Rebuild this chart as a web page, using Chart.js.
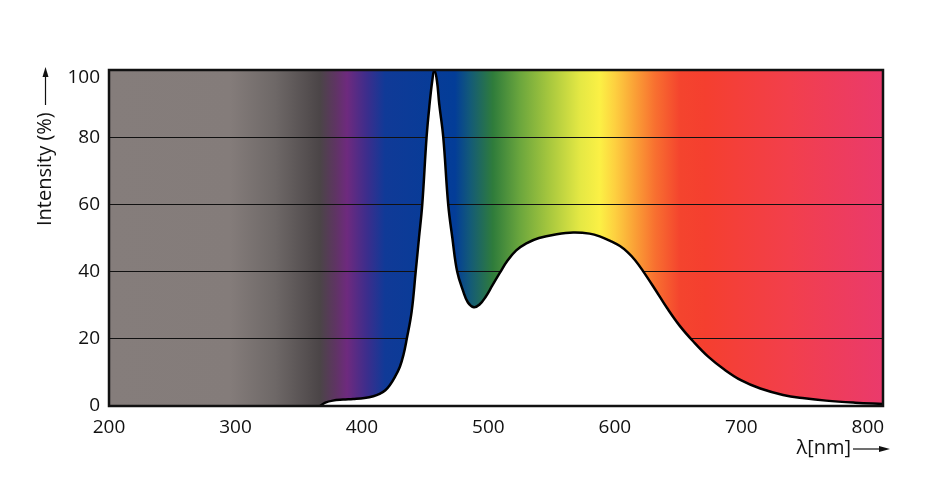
<!DOCTYPE html>
<html>
<head>
<meta charset="utf-8">
<script src="https://cdn.jsdelivr.net/npm/chart.js@4.4.1/dist/chart.umd.min.js"></script>
<style>
  html, body { margin: 0; padding: 0; background: #ffffff; }
  #wrap { width: 947px; height: 477px; }
</style>
</head>
<body>
<div id="wrap"><canvas id="c" width="947" height="477"></canvas></div>
<script>
// Wavelength (nm) and relative intensity (%)
const wavelengths = [366.8, 371, 377, 385, 393, 402, 409, 414, 418.5, 422, 426, 430, 432.8, 435.3, 439.3, 442.5, 445.1, 447.7, 451.1, 453.5, 455.6, 457.2, 459.3, 461.1, 464.3, 468.2, 471.5, 475.3, 480.1, 483.8, 488.5, 493, 498, 503, 509, 515, 522, 530, 540, 554, 567, 580, 588, 597, 604, 610, 616, 622, 632, 641, 651, 662, 674, 686, 700, 715, 733, 750, 767, 790, 812];
const intensity = [0, 1.0, 1.6, 1.9, 2.1, 2.4, 2.9, 3.6, 4.7, 6.2, 8.6, 11.7, 15.2, 19.7, 28.1, 40, 50, 60, 80, 89.9, 96.8, 100, 96.8, 89.9, 80, 60, 50, 40, 34.1, 30.8, 29.4, 30.2, 32.6, 35.8, 39.6, 43.2, 46.3, 48.4, 50.0, 51.1, 51.6, 51.3, 50.5, 49.0, 47.6, 45.8, 43.4, 40.3, 34.6, 29.3, 24.0, 19.2, 14.6, 11.0, 7.6, 5.2, 3.3, 2.3, 1.6, 1.0, 0.6];
const xTicks = [200, 300, 400, 500, 600, 700, 800];
const yTicks = [0, 20, 40, 60, 80, 100];
const xTitle = 'λ[nm]';
const yTitle = 'Intensity (%)';

// spectrum colour stops as wavelength -> colour
const stopNm = [200, 295.7, 331.3, 366.8, 378.7, 388.2, 404.0, 418.2, 473.6, 485.4, 503.6, 525.0, 548.7, 572.4, 588.2, 600.1, 615.9, 631.7, 651.5, 671.3, 738.5, 812];
const stopCol = ['#857d7b', '#847c7a', '#6e6867', '#4b4547', '#5e3562', '#6e2a7e', '#3c2d8c', '#103a97', '#033d98', '#135a78', '#2f7c3b', '#6ba63d', '#a8c83e', '#e4e844', '#fbf045', '#fdd040', '#faa036', '#f87030', '#f4442e', '#f53f2f', '#f23f4c', '#ea3a6c'];

const FONT = '"Open Sans", "Noto Sans", sans-serif';

const points = wavelengths.map((w, i) => ({ x: w, y: intensity[i] }));

const spectrumPlugin = {
  id: 'spectrum',
  beforeDraw(chart) {
    const { ctx, chartArea: a, scales } = chart;
    ctx.save();
    ctx.fillStyle = '#ffffff';
    ctx.fillRect(0, 0, chart.width, chart.height);
    const g = ctx.createLinearGradient(a.left, 0, a.right, 0);
    const min = scales.x.min, max = scales.x.max;
    stopNm.forEach((nm, i) => {
      const f = Math.min(1, Math.max(0, (nm - min) / (max - min)));
      g.addColorStop(f, stopCol[i]);
    });
    ctx.fillStyle = g;
    ctx.fillRect(a.left, a.top, a.right - a.left, a.bottom - a.top);
    ctx.restore();
  },
  afterDatasetsDraw(chart) {
    const { ctx, chartArea: a } = chart;
    ctx.save();
    ctx.strokeStyle = '#111111';
    ctx.lineWidth = 2.5;
    ctx.strokeRect(a.left, a.top, a.right - a.left, a.bottom - a.top);
    ctx.restore();
  },
  afterDraw(chart) {
    const { ctx } = chart;
    ctx.save();
    ctx.fillStyle = '#111111';
    ctx.strokeStyle = '#111111';
    ctx.font = '20px ' + FONT;
    // y title rotated
    ctx.save();
    ctx.translate(51, 226);
    ctx.rotate(-Math.PI / 2);
    ctx.textAlign = 'left';
    ctx.textBaseline = 'alphabetic';
    ctx.fillText(yTitle, 0, 0);
    ctx.restore();
    // y arrow
    ctx.lineWidth = 1.2;
    ctx.beginPath();
    ctx.moveTo(45.5, 105);
    ctx.lineTo(45.5, 74);
    ctx.stroke();
    ctx.beginPath();
    ctx.moveTo(45.5, 67);
    ctx.lineTo(42.5, 77);
    ctx.lineTo(48.5, 77);
    ctx.closePath();
    ctx.fill();
    // x title
    ctx.font = '20px ' + FONT;
    ctx.textAlign = 'right';
    ctx.textBaseline = 'middle';
    ctx.fillText(xTitle, 851, 448);
    ctx.beginPath();
    ctx.moveTo(853, 449);
    ctx.lineTo(881, 449);
    ctx.stroke();
    ctx.beginPath();
    ctx.moveTo(890, 449);
    ctx.lineTo(879, 446);
    ctx.lineTo(879, 452);
    ctx.closePath();
    ctx.fill();
    ctx.restore();
  }
};

new Chart(document.getElementById('c'), {
  type: 'line',
  data: {
    datasets: [{
      data: points,
      borderColor: '#000000',
      borderWidth: 2.5,
      backgroundColor: '#ffffff',
      fill: 'origin',
      pointRadius: 0,
      tension: 0.4
    }]
  },
  options: {
    responsive: false,
    animation: false,
    devicePixelRatio: 1,
    layout: { padding: { left: 0, right: 64, top: 70, bottom: 0 } },
    plugins: { legend: { display: false }, tooltip: { enabled: false } },
    scales: {
      x: {
        type: 'linear',
        min: 200,
        max: 812,
        afterFit(s) { s.height = 71; },
        afterBuildTicks(s) { s.ticks = xTicks.map(v => ({ value: v })); },
        grid: { display: false, drawTicks: false },
        border: { display: false },
        ticks: { color: '#111111', padding: 10, maxRotation: 0, font: { family: FONT, size: 19 } }
      },
      y: {
        min: 0,
        max: 100,
        afterFit(s) { s.width = 109; },
        afterBuildTicks(s) { s.ticks = yTicks.map(v => ({ value: v })); },
        grid: { color: '#111111', lineWidth: 1, drawTicks: false },
        border: { display: false },
        ticks: {
          color: '#111111',
          padding: 9,
          font: (c) => ({ family: FONT, size: 19, lineHeight: (c.tick && c.tick.value === 100) ? 0.8 : 1.2 }),
          callback: (v) => v === 100 ? ['', String(v)] : String(v)
        }
      }
    }
  },
  plugins: [spectrumPlugin]
});
</script>
</body>
</html>
